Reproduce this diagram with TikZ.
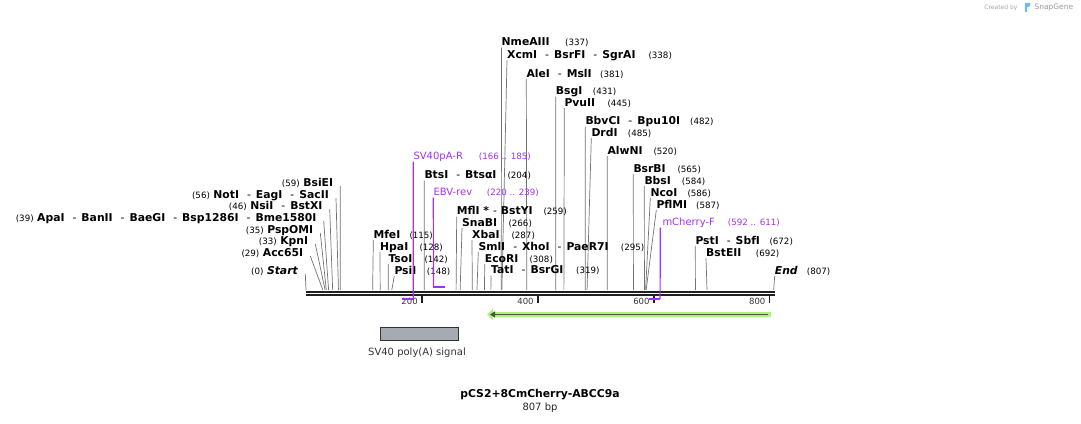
\documentclass[tikz,border=0pt]{standalone}
\usepackage{fontspec}
\setmainfont{DejaVu Sans}
\usetikzlibrary{arrows.meta}
\definecolor{primcol}{RGB}{160,50,240}
\definecolor{featgreen}{RGB}{178,240,128}
\definecolor{featdark}{RGB}{72,88,62}
\definecolor{boxgray}{RGB}{166,171,178}
\newcommand{\bpnum}[1]{{\mdseries\fontsize{8.7}{10}\selectfont(#1)}}
\newcommand{\posl}[1]{\bpnum{#1}\hspace{3.5pt}}
\newcommand{\enzsep}{\hspace{8pt}{\mdseries -}\hspace{5pt}}
\tikzset{
    enz/.style={inner sep=0pt,anchor=base west,font=\fontsize{10.8}{12}\selectfont\bfseries},
    enz left/.style={enz,anchor=base east},
    cut num/.style={inner sep=0pt,anchor=base west,font=\fontsize{8.7}{10}\selectfont},
    site/.style={draw=black!55,line width=0.7pt},
    primer/.style={inner sep=0pt,anchor=base west,text=primcol,font=\fontsize{10}{12}\selectfont},
    primer num/.style={cut num,text=primcol},
    primer line/.style={draw=primcol,line width=1.2pt},
    primer end/.style={draw=primcol,line width=2pt},
    ruler num/.style={inner sep=0pt,anchor=base east,font=\fontsize{8.5}{10}\selectfont,text=black!80},
}

\begin{document}
\begin{tikzpicture}[x=1pt,y=-1pt]
\useasboundingbox (0,0) rectangle (1081,423);

% points on the backbone
\foreach \p in {0,29,33,35,39,46,56,59,115,128,142,148,204,259,266,287,295,308,319,
                337,338,381,431,445,482,485,520,565,584,586,587,672,692,807}
    \coordinate (s\p) at ({306+0.5795*\p},290);
\foreach \p in {166,185,592,611}
    \coordinate (p\p) at ({306+0.5795*\p},299);
\foreach \p in {220,239}
    \coordinate (p\p) at ({306+0.5795*\p},287);

% backbone and ruler
\draw[line width=2pt,black!88] (306,291.7) -- (774.5,291.7);
\draw[line width=2pt,black!88] (306,295) -- (774.5,295);
\foreach \k in {200,400,600,800} {
    \coordinate (t\k) at ({306+0.5795*\k},296);
    \draw[line width=1.7pt,black!88] (t\k) -- ++(0,6.5);
    \node[ruler num] (r\k) at ([xshift=-4pt,yshift=-8.5pt]t\k) {\k};
}

% enzymes labelled to the right of their line
\foreach \n/\x/\y/\lbl/\p/\nx in {
    nmeaiii/501.5/45.5/{NmeAIII}/337/565,
    xcmi/507/58.5/{XcmI\enzsep BsrFI\enzsep SgrAI}/338/648.3,
    alei/526.3/77/{AleI\enzsep MslI}/381/600,
    bsgi/555.7/94.5/{BsgI}/431/592.7,
    pvuii/564.3/106/{PvuII}/445/607.3,
    bbvci/585.3/124.5/{BbvCI\enzsep Bpu10I}/482/690,
    drdi/591.3/136/{DrdI}/485/627.7,
    alwni/607.3/154/{AlwNI}/520/653.3,
    bsrbi/633.3/172/{BsrBI}/565/677.3,
    bbsi/644.3/184/{BbsI}/584/681.7,
    ncoi/650.3/196/{NcoI}/586/687.3,
    pflmi/656.3/208/{PflMI}/587/696,
    psti/695.3/244/{PstI\enzsep SbfI}/672/769.3,
    bsteii/706/256/{BstEII}/692/755.7,
    endlbl/774.7/274/{\textit{End}}/807/806.7,
    btsi/424.3/178.5/{BtsI\enzsep BtsαI}/204/507.3,
    mfli/456.7/214.5/{MflI *\hspace{4pt}{\mdseries -}\hspace{4pt}BstYI}/259/543.3,
    snabi/462/226/{SnaBI}/266/508.3,
    xbai/472/238/{XbaI}/287/511.3,
    smli/478.3/250/{SmlI\enzsep XhoI\enzsep PaeR7I}/295/620.7,
    ecori/484.7/262/{EcoRI}/308/529.3,
    tati/491/273.5/{TatI\enzsep BsrGI}/319/576,
    mfei/373.3/238/{MfeI}/115/409.3,
    hpai/380/250/{HpaI}/128/419.3,
    tsoi/388.3/262/{TsoI}/142/424.3,
    psii/394.3/274/{PsiI}/148/426.7} {
    \node[enz] (\n) at (\x,\y) {\lbl};
    \node[cut num] (\n-num) at (\nx,\y) {(\p)};
    \draw[site] ([yshift=-2pt]\n.base west) -- (s\p);
}

% enzymes labelled to the left of their line
\node[enz left] (bsiei) at (333.3,186) {\posl{59}BsiEI};
\node[enz left] (noti) at (329,198) {\posl{56}NotI\enzsep EagI\enzsep SacII};
\node[enz left] (nsii) at (322.7,209) {\posl{46}NsiI\enzsep BstXI};
\node[enz left] (apai) at (316.7,221) {\posl{39}ApaI\enzsep BanII\enzsep BaeGI\enzsep Bsp1286I\enzsep Bme1580I};
\node[enz left] (pspomi) at (313.3,233) {\posl{35}PspOMI};
\node[enz left] (kpni) at (308.3,244) {\posl{33}KpnI};
\node[enz left] (acc65i) at (303.3,256) {\posl{29}Acc65I};
\node[enz left] (startlbl) at (298.3,274) {\posl{0}\textit{Start}};

\foreach \n/\p in {bsiei/59,noti/56,nsii/46,apai/39,pspomi/35,kpni/33,acc65i/29,startlbl/0}
    \draw[site] ([xshift=7pt]\n.base east) -- (s\p);

% primers
\node[primer] (sv40r) at (413.3,159.6) {SV40pA-R};
\node[primer num] (sv40r-num) at (478.7,159.6) {(166 .. 185)};
\node[primer] (ebvrev) at (433.3,195.6) {EBV-rev};
\node[primer num] (ebvrev-num) at (486.7,195.6) {(220 .. 239)};
\node[primer] (mcherf) at (662.3,225.6) {mCherry-F};
\node[primer num] (mcherf-num) at (727.7,225.6) {(592 .. 611)};
\draw[primer line] ([yshift=-2pt]sv40r.base west) -- (p185);
\draw[primer end] (p166) -- (p185);
\draw[primer line] ([yshift=-2pt]ebvrev.base west) -- (p220);
\draw[primer end] (p220) -- (p239);
\draw[primer line] ([xshift=-2pt,yshift=-2pt]mcherf.base west) -- (p611);
\draw[primer end] (p592) -- (p611);

% features
\draw[featgreen,line width=5pt,-{Triangle[length=6pt,width=11pt]}] (771,314.5) -- (487,314.5);
\draw[featdark,line width=1.8pt,-{Triangle[length=5pt,width=6pt]}] (768,314.5) -- (490,314.5);
\draw[fill=boxgray,draw=black!80,line width=0.8pt] (380.5,327.5) rectangle (458.5,340.5);
\node[font=\fontsize{10}{12}\selectfont,text=black!80] (polya) at (417,353) {SV40 poly(A) signal};

% title
\node[font=\fontsize{10.8}{12}\selectfont\bfseries] (title) at (540,395) {pCS2+8CmCherry-ABCC9a};
\node[font=\fontsize{10}{12}\selectfont,text=black!85] (bp) at (540,407.5) {807 bp};

% credit
\node[font=\fontsize{6}{7}\selectfont,text=black!35,anchor=east] (made) at (1021,7.5) {Created by};
\fill[blue!45!cyan!60] (1024.5,3) rectangle (1026.5,12);
\fill[blue!45!cyan!60] (1026.5,3) -- (1030,3) -- (1030,6) -- (1026.5,7.5) -- cycle;
\node[font=\fontsize{7.5}{9}\selectfont,text=black!40,anchor=west] (sg) at (1031,7.5) {SnapGene};
\end{tikzpicture}
\end{document}
